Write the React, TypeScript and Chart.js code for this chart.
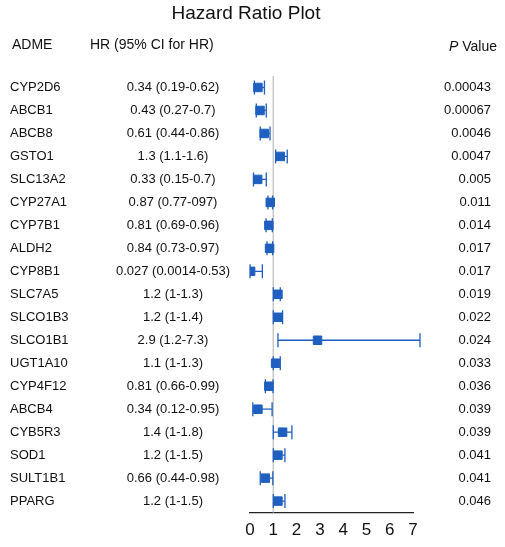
import React, { useEffect, useRef } from 'react';
import { Chart } from 'chart.js/auto';

const genes = ['CYP2D6', 'ABCB1', 'ABCB8', 'GSTO1', 'SLC13A2', 'CYP27A1', 'CYP7B1', 'ALDH2', 'CYP8B1', 'SLC7A5', 'SLCO1B3', 'SLCO1B1', 'UGT1A10', 'CYP4F12', 'ABCB4', 'CYB5R3', 'SOD1', 'SULT1B1', 'PPARG'];
const hrText = ['0.34 (0.19-0.62)', '0.43 (0.27-0.7)', '0.61 (0.44-0.86)', '1.3 (1.1-1.6)', '0.33 (0.15-0.7)', '0.87 (0.77-097)', '0.81 (0.69-0.96)', '0.84 (0.73-0.97)', '0.027 (0.0014-0.53)', '1.2 (1-1.3)', '1.2 (1-1.4)', '2.9 (1.2-7.3)', '1.1 (1-1.3)', '0.81 (0.66-0.99)', '0.34 (0.12-0.95)', '1.4 (1-1.8)', '1.2 (1-1.5)', '0.66 (0.44-0.98)', '1.2 (1-1.5)'];
const hr = [0.34, 0.43, 0.61, 1.3, 0.33, 0.87, 0.81, 0.84, 0.027, 1.2, 1.2, 2.9, 1.1, 0.81, 0.34, 1.4, 1.2, 0.66, 1.2];
const lower = [0.19, 0.27, 0.44, 1.1, 0.15, 0.77, 0.69, 0.73, 0.0014, 1, 1, 1.2, 1, 0.66, 0.12, 1, 1, 0.44, 1];
const upper = [0.62, 0.7, 0.86, 1.6, 0.7, 0.97, 0.96, 0.97, 0.53, 1.3, 1.4, 7.3, 1.3, 0.99, 0.95, 1.8, 1.5, 0.98, 1.5];
const pValues = ['0.00043', '0.00067', '0.0046', '0.0047', '0.005', '0.011', '0.014', '0.017', '0.017', '0.019', '0.022', '0.024', '0.033', '0.036', '0.039', '0.039', '0.041', '0.041', '0.046'];

const BLUE = '#1f5fbf';
const FONT = '"Liberation Sans", Arial, sans-serif';

const forestPlugin = {
  id: 'forest',
  beforeDatasetsDraw(chart: any) {
    const { ctx, scales } = chart;
    const x = scales.x;
    const y = scales.y;
    ctx.save();
    // reference line at HR = 1
    ctx.strokeStyle = '#c8c8c8';
    ctx.lineWidth = 1.5;
    ctx.beginPath();
    ctx.moveTo(x.getPixelForValue(1), chart.chartArea.top);
    ctx.lineTo(x.getPixelForValue(1), chart.chartArea.bottom);
    ctx.stroke();
    // whiskers
    ctx.strokeStyle = BLUE;
    ctx.lineWidth = 1.3;
    genes.forEach((_, i) => {
      const py = y.getPixelForValue(i);
      const x1 = x.getPixelForValue(lower[i]);
      const x2 = x.getPixelForValue(upper[i]);
      ctx.beginPath();
      ctx.moveTo(x1, py);
      ctx.lineTo(x2, py);
      ctx.moveTo(x1, py - 7);
      ctx.lineTo(x1, py + 7);
      ctx.moveTo(x2, py - 7);
      ctx.lineTo(x2, py + 7);
      ctx.stroke();
    });
    ctx.restore();
  },
  afterDraw(chart: any) {
    const { ctx, scales } = chart;
    const y = scales.y;
    ctx.save();
    ctx.fillStyle = '#111';
    ctx.textBaseline = 'middle';
    ctx.font = `19px ${FONT}`;
    ctx.textAlign = 'center';
    ctx.fillText('Hazard Ratio Plot', 246, 14);
    ctx.font = `14px ${FONT}`;
    ctx.textAlign = 'left';
    ctx.fillText('ADME', 12, 45);
    ctx.fillText('HR (95% CI for HR)', 90, 45);
    ctx.textAlign = 'right';
    ctx.fillText(' Value', 497, 47);
    const w = ctx.measureText(' Value').width;
    ctx.font = `italic 14px ${FONT}`;
    ctx.fillText('P', 497 - w, 47);
    ctx.font = `13px ${FONT}`;
    genes.forEach((g, i) => {
      const py = y.getPixelForValue(i);
      ctx.textAlign = 'left';
      ctx.fillText(g, 10, py);
      ctx.textAlign = 'center';
      ctx.fillText(hrText[i], 173, py);
      ctx.textAlign = 'right';
      ctx.fillText(pValues[i], 491, py);
    });
    ctx.restore();
  },
};

export default function App() {
  const canvasRef = useRef<HTMLCanvasElement>(null);
  const chartRef = useRef<Chart | null>(null);

  useEffect(() => {
    if (!canvasRef.current) return;
    if (chartRef.current) chartRef.current.destroy();
    chartRef.current = new Chart(canvasRef.current, {
      type: 'scatter',
      data: {
        datasets: [
          {
            data: hr.map((v, i) => ({ x: v, y: i })),
            backgroundColor: BLUE,
            borderColor: BLUE,
            pointStyle: 'rect',
            pointRadius: 6,
            pointHoverRadius: 6,
          },
        ],
      },
      options: {
        responsive: false,
        animation: false,
        layout: { padding: { left: 250, right: 92, top: 76, bottom: 4 } },
        plugins: { legend: { display: false }, tooltip: { enabled: false } },
        scales: {
          x: {
            type: 'linear',
            min: 0,
            max: 7,
            grid: { display: false, drawTicks: true, tickLength: 6, color: '#222' },
            border: { display: true, color: '#222', width: 1.3 },
            ticks: { stepSize: 1, color: '#111', font: { size: 17, family: FONT }, padding: 2 },
          },
          y: {
            type: 'linear',
            min: -0.5,
            max: 18.5,
            reverse: true,
            display: false,
          },
        },
      },
      plugins: [forestPlugin],
    });
    return () => chartRef.current?.destroy();
  }, []);

  return (
    <div style={{ position: 'fixed', left: 0, top: 0, width: 505, height: 547, background: '#fff' }}>
      <canvas ref={canvasRef} width={505} height={547}></canvas>
    </div>
  );
}
